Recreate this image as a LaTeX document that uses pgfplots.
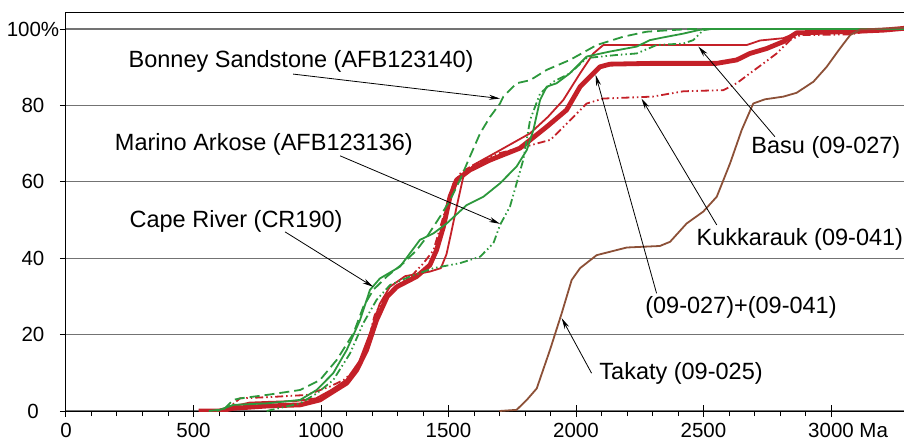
\documentclass[border=0pt]{standalone}
\usepackage{pgfplots}
\pgfplotsset{compat=1.18}
\usepackage{fontspec}
\setmainfont{Liberation Sans}
\usetikzlibrary{arrows.meta}
\definecolor{grn}{RGB}{44,152,60}
\definecolor{rd}{RGB}{196,32,40}
\definecolor{brn}{RGB}{140,80,55}
\definecolor{gridc}{RGB}{115,115,115}
\newcommand{\annfont}{\fontsize{23.5bp}{26bp}\selectfont}
\begin{document}
\begin{tikzpicture}
\useasboundingbox (-66bp,-30bp) rectangle (838bp,411bp);
\begin{axis}[
    scale only axis,
    width=841.5bp, height=398.4bp,
    xmin=0, xmax=3300, ymin=0, ymax=104.3,
    axis line style={black, line width=1bp},
    xtick={0,500,...,3000},
    xticklabels={0,500,1000,1500,2000,2500,3000\rlap{ Ma}},
    minor x tick num=4,
    ytick={0,20,...,100},
    yticklabels={0,20,40,60,80,100\%},
    xtick pos=bottom, ytick pos=left,
    tick align=outside,
    major tick length=6bp, minor tick length=5bp,
    tick style={black, line width=1bp},
    extra x ticks={0,500,...,3000},
    extra x tick labels={},
    extra x tick style={tick align=inside, major tick length=6bp, grid=none},
    ymajorgrids,
    major grid style={gridc, line width=1.1bp},
    tick label style={font=\fontsize{20.5bp}{23bp}\selectfont},
    xticklabel style={yshift=-3bp},
    yticklabel style={anchor=center, xshift=-27bp},
    /pgf/number format/assume math mode=true,
    line join=round,
]
% Basu (09-027)
\addplot[rd, line width=1.8bp] coordinates {
(540,0) (620,0) (660,1.3) (720,2.2) (800,2.4) (900,2.6) (980,3.3) (1040,5.5) (1100,8.2) (1150,13) (1190,20) (1230,28) (1270,32.5) (1330,35.3) (1427,36.5) (1470,37.4) (1492,41) (1510,46.5) (1532,53.5) (1558,61.3) (1600,64.5) (1700,68.2) (1820,72.7) (1890,77) (1950,81.4) (2016,88.4) (2068,93.6) (2107,95.8) (2669,95.8) (2722,97) (2813,97.6) (2865,99) (3000,99.4) (3150,99.7) (3290,100.2)
};
% Kukkarauk (09-041)
\addplot[rd, line width=1.8bp, dash pattern=on 8bp off 3bp on 1.5bp off 3bp on 1.5bp off 3bp] coordinates {
(600,0) (650,1.5) (682,3.3) (813,3.7) (944,4.2) (1035,6.4) (1088,8.1) (1140,11) (1180,17) (1210,25) (1250,30) (1300,33) (1350,35) (1402,38.7) (1441,42.1) (1480,50.9) (1519,59.6) (1550,62.5) (1600,64.5) (1700,67.5) (1807,69.3) (1900,71) (1960,75) (2042,80.5) (2107,81.8) (2300,82.3) (2421,83.7) (2578,84) (2630,85.8) (2682,88.4) (2735,91) (2787,93.6) (2840,97.1) (2880,98.4) (3075,98.6) (3150,99.4) (3290,100.2)
};
% (09-027)+(09-041)
\addplot[rd, line width=4.8bp] coordinates {
(520,0) (600,0) (656,0.7) (787,1.3) (918,1.6) (996,2.9) (1048,5.1) (1101,7.3) (1140,10.7) (1179,16) (1218,23.8) (1260,30) (1297,32.5) (1375,35.2) (1427,38.2) (1453,42.1) (1480,48.2) (1506,56.1) (1532,60.5) (1584,63.1) (1663,65.7) (1780,68.8) (1885,74.4) (1963,78.8) (2016,84.9) (2068,88.4) (2094,90.1) (2133,90.8) (2290,91) (2551,91) (2630,91.9) (2682,93.6) (2748,94.9) (2813,96.7) (2865,99) (3000,99.2) (3100,99.4) (3205,99.7) (3290,100.2)
};
% Bonney Sandstone
\addplot[grn, line width=1.8bp, dash pattern=on 10bp off 5bp] coordinates {
(560,0) (620,0.5) (656,2.9) (682,3.3) (787,4.2) (918,5.5) (996,8.1) (1062,13.4) (1127,20.3) (1166,27.3) (1205,31.7) (1258,35.2) (1323,38.7) (1375,42.1) (1415,45.6) (1467,50.9) (1506,55.2) (1545,60.5) (1584,66.6) (1624,72.7) (1663,77) (1702,80.5) (1715,82.3) (1767,85.8) (1820,86.6) (1885,89.3) (1976,91.9) (2081,95.8) (2186,98) (2277,99.3) (2369,99.7) (2450,100) (3290,100)
};
% Cape River
\addplot[grn, line width=1.8bp] coordinates {
(591,0) (656,1.6) (787,2) (918,2.9) (983,5.5) (1048,9.9) (1101,16) (1153,23.8) (1192,31.7) (1231,34.7) (1310,37.8) (1388,44.8) (1441,46.5) (1493,49.1) (1571,53.9) (1637,56.1) (1702,59.6) (1767,64) (1807,68.3) (1833,73.6) (1859,81.4) (1885,84.9) (1924,85.8) (1976,88.4) (2042,92.8) (2133,94.1) (2238,95.4) (2290,97.1) (2342,97.8) (2421,98.8) (2486,99.8) (2520,100) (3290,100)
};
% Marino Arkose
\addplot[grn, line width=1.8bp, dash pattern=on 8bp off 3bp on 1.5bp off 3bp on 1.5bp off 3bp] coordinates {
(787,0) (918,2) (983,4.6) (1048,8.1) (1114,15.1) (1166,23) (1218,29.1) (1271,33) (1349,35.2) (1441,37.4) (1545,38.7) (1624,40.4) (1676,43.9) (1702,48.7) (1741,53.5) (1767,59.6) (1793,65.7) (1820,76.2) (1859,83.1) (1911,86.2) (1976,88.4) (2042,92.4) (2159,93.2) (2238,93.6) (2316,95.8) (2421,96.2) (2460,97.1) (2499,99.7) (2530,100) (3290,100)
};
% Takaty (09-025)
\addplot[brn, line width=1.8bp] coordinates {
(1700,0) (1767,0.3) (1807,2.9) (1846,5.9) (1898,16) (1944,25.6) (1983,34.3) (2016,37.4) (2081,40.8) (2199,42.8) (2329,43.2) (2369,44.3) (2434,49.1) (2499,52.2) (2552,56.1) (2604,64.8) (2650,73.6) (2695,80.5) (2741,81.6) (2813,82.3) (2865,83.3) (2931,86.2) (2983,90.1) (3035,94.9) (3075,98.4) (3114,99.9) (3290,100.3)
};
% annotations
\begin{scope}[every node/.style={font=\annfont, inner sep=0pt}, arr/.style={black, line width=0.8bp, -{Stealth[length=11bp, width=5bp]}}]
\node at (axis cs:922,91.6) {Bonney Sandstone (AFB123140)};
\draw[arr] (axis cs:891,88.2) -- (axis cs:1702,81.8);
\node at (axis cs:776,69.9) {Marino Arkose (AFB123136)};
\draw[arr] (axis cs:1075,66.8) -- (axis cs:1702,49);
\node at (axis cs:667,49.5) {Cape River (CR190)};
\draw[arr] (axis cs:859,46.9) -- (axis cs:1205,32.5);
\node at (axis cs:2980,69.1) {Basu (09-027)};
\draw[arr] (axis cs:2780,71.8) -- (axis cs:2480,95.4);
\node at (axis cs:2878,44.8) {Kukkarauk (09-041)};
\draw[arr] (axis cs:2552,48.7) -- (axis cs:2257,81.8);
\node at (axis cs:2647,27.2) {(09-027)+(09-041)};
\draw[arr] (axis cs:2316,30.8) -- (axis cs:2077,88);
\node at (axis cs:2412,9.9) {Takaty (09-025)};
\draw[arr] (axis cs:2061,9.9) -- (axis cs:1944,24.3);
\end{scope}
\end{axis}
\end{tikzpicture}
\end{document}
